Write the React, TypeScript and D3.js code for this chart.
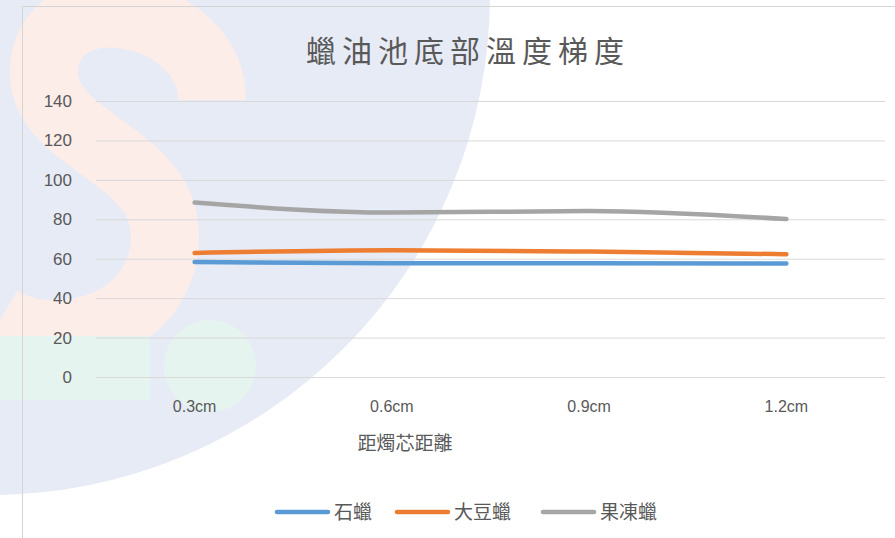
import * as React from 'react';
import * as d3 from 'd3';

// values
const categories = ['0.3cm', '0.6cm', '0.9cm', '1.2cm'];
const seriesNames = ['石蠟', '大豆蠟', '果凍蠟'];
const paraffin = [58.3, 57.7, 57.7, 57.6];
const soy = [62.9, 64.3, 63.6, 62.3];
const jelly = [88.5, 83.4, 84.2, 80.1];
const yTicks = [0, 20, 40, 60, 80, 100, 120, 140];

const colors = ['#5b9bd5', '#ed7d31', '#a5a5a5'];

const width = 895;
const height = 538;
const plot = { left: 96, right: 885, top: 101, bottom: 377 };

const App = () => {
  const series = [paraffin, soy, jelly];

  const x = d3.scaleBand<string>()
    .domain(categories)
    .range([plot.left, plot.right]);

  const y = d3.scaleLinear()
    .domain([0, 140])
    .range([plot.bottom, plot.top]);

  const line = d3.line<number>()
    .x((_, i) => (x(categories[i]) as number) + x.bandwidth() / 2)
    .y(d => y(d))
    .curve(d3.curveMonotoneX);

  const tickFont = '"Liberation Sans", Roboto, sans-serif';
  const cjkFont = '"Noto Sans CJK TC", "Noto Sans CJK SC", sans-serif';

  // legend layout (line swatch + label)
  const legendX = [277, 397, 543];

  return (
    <svg width={width} height={height}
         style={{ position: 'absolute', left: 0, top: 0, background: '#ffffff' }}>
      {/* faint watermark-like background */}
      <g>
        <circle cx={-10} cy={-5} r={500} fill="#e7ebf5" />
        <path d="M 212 100 C 212 10, 60 -20, 45 60 C 30 140, 165 150, 165 235 C 165 325, 60 355, 0 320"
              fill="none" stroke="#fcede9" strokeWidth={68} />
        <rect x={0} y={336} width={150} height={64} fill="#e6f4f0" />
        <circle cx={210} cy={366} r={46} fill="#e6f4f0" />
      </g>

      {/* chart frame */}
      <rect x={22.5} y={6.5} width={900} height={600} fill="none" stroke="#d4d4d4" />

      {/* title */}
      <text x={468} y={62} textAnchor="middle" fontFamily={cjkFont} fontSize={30}
            letterSpacing={6} fill="#595959">蠟油池底部溫度梯度</text>

      {/* gridlines + y ticks */}
      {yTicks.map(t => (
        <g key={t}>
          <line x1={plot.left} x2={plot.right} y1={y(t) + 0.5} y2={y(t) + 0.5}
                stroke="#d9d9d9" strokeWidth={1} />
          <text x={72} y={y(t)} dy="0.35em" textAnchor="end" fontFamily={tickFont}
                fontSize={17} fill="#595959">{t}</text>
        </g>
      ))}

      {/* x tick labels */}
      {categories.map(c => (
        <text key={c} x={(x(c) as number) + x.bandwidth() / 2} y={406} dy="0.35em"
              textAnchor="middle" fontFamily={tickFont} fontSize={16} fill="#595959">{c}</text>
      ))}

      {/* x axis title */}
      <text x={405} y={443} dy="0.35em" textAnchor="middle" fontFamily={cjkFont}
            fontSize={19} fill="#595959">距燭芯距離</text>

      {/* series lines */}
      {series.map((s, i) => (
        <path key={i} d={line(s) || ''} fill="none" stroke={colors[i]}
              strokeWidth={4.5} strokeLinecap="round" strokeLinejoin="round" />
      ))}

      {/* legend */}
      {seriesNames.map((n, i) => (
        <g key={n} transform={`translate(${legendX[i]},512)`}>
          <line x1={0} x2={51} y1={0} y2={0} stroke={colors[i]} strokeWidth={4.5}
                strokeLinecap="round" />
          <text x={57} y={0} dy="0.35em" fontFamily={cjkFont} fontSize={19}
                fill="#595959">{n}</text>
        </g>
      ))}
    </svg>
  );
};

export default App;
